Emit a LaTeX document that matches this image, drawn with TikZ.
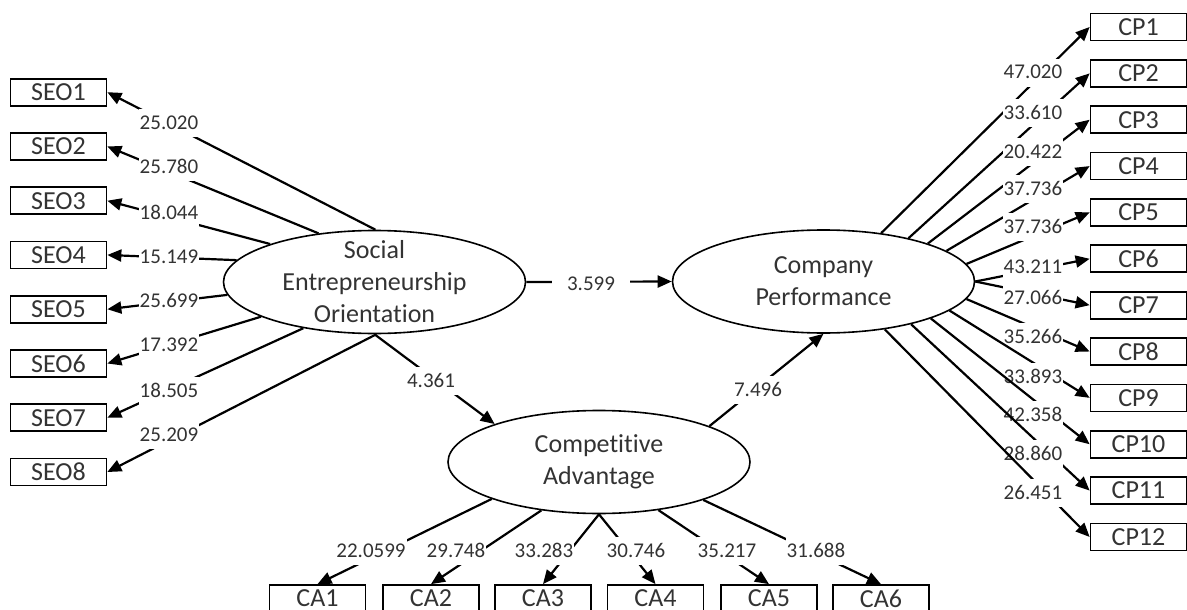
\documentclass[tikz,border=0pt]{standalone}
\usepackage{fontspec}
\setmainfont{Carlito}[Ligatures={NoCommon}]
\usetikzlibrary{arrows.meta,shapes.geometric}
\definecolor{txtgray}{HTML}{333333}
\tikzset{
  every picture/.style={
    x=1pt, y=-1pt,
    >={Triangle[length=14pt, width=12pt]}
  },
  indicator/.style={
    draw, line width=1.7pt, minimum width=96pt, minimum height=27pt,
    inner sep=0pt, text=txtgray, font=\fontsize{26}{32}\selectfont
  },
  latent/.style={
    ellipse, draw, line width=1.6pt, minimum width=302pt,
    minimum height=103pt, inner sep=0pt
  },
  lattext/.style={
    align=center, text=txtgray, font=\fontsize{26}{32}\selectfont
  },
  link/.style={line width=2.2pt, ->},
  weight/.style={
    fill=white, text=txtgray, inner xsep=1pt, inner ysep=5pt,
    text height=15pt, text depth=3pt, font=\fontsize{21}{25}\selectfont
  },
  coef/.style={weight, inner xsep=15pt}
}
\begin{document}
\begin{tikzpicture}
  \useasboundingbox (0,0) rectangle (1187,610);
  % constructs
  \node [latent, label={[lattext]center:{Social\\Entrepreneurship\\Orientation}}] (seo) at (374.5,282) {};
  \node [latent, label={[lattext]center:{Company\\Performance}}] (cp) at (823.5,281.5) {};
  \node [latent, label={[lattext]center:{Competitive\\Advantage}}] (ca) at (599,462) {};
  % indicators
  \foreach \i in {1,...,8}
    \node [indicator] (seo\i) at (58.5,{92.2+54.26*(\i-1)}) {SEO\i};
  \foreach \i in {1,...,12}
    \node [indicator] (cp\i) at (1138.5,{27+46.36*(\i-1)}) {CP\i};
  \foreach \i/\x in {1/317.5,2/431,3/543,4/655.5,5/769,6/881}
    \node [indicator] (ca\i) at (\x,598.5) {CA\i};
  % outer loadings
  \foreach \i/\a/\y/\w in {1/89/123/25.020, 2/139.6/167/25.780, 3/160.8/213/18.044,
      4/171.7/257/15.149, 5/185.5/301/25.699, 6/197.4/345/17.392,
      7/213.2/391/18.505, 8/272.8/435/25.209} {
    \draw [link] (seo.\a) -- (seo\i.east);
    \node [weight] (ws\i) at (169,\y) {\w};
  }
  \foreach \i/\a/\y/\w in {1/40.2/73/47.020, 2/27.5/113/33.610, 3/20.4/152/20.422,
      4/14.1/189/37.736, 5/7.3/227/37.736, 6/0/267/43.211, 7/0/298/27.066,
      8/353.5/337/35.266, 9/347.9/377/33.893, 10/341.4/415/42.358,
      11/334.4/454/28.860, 12/322/493/26.451} {
    \draw [link] (cp.\a) -- (cp\i.west);
    \node [weight] (wp\i) at (1033,\y) {\w};
  }
  \foreach \i/\a/\x/\w in {1/199.2/371/22.0599, 2/220.3/456/29.748, 3/270/544/33.283,
      4/270/636/30.746, 5/321.8/727/35.217, 6/340.8/816/31.688} {
    \draw [link] (ca.\a) -- (ca\i.north);
    \node [weight] (wa\i) at (\x,551) {\w};
  }
  % inner model
  \draw [link] (seo.east) -- (cp.west);
  \draw [link] (seo.south) -- (ca.160.9);
  \draw [link] (ca.18.9) -- (cp.south);
  \node [coef] (b1) at (591,284) {3.599};
  \node [coef] (b2) at (431,381) {4.361};
  \node [coef] (b3) at (758,390) {7.496};
\end{tikzpicture}
\end{document}
